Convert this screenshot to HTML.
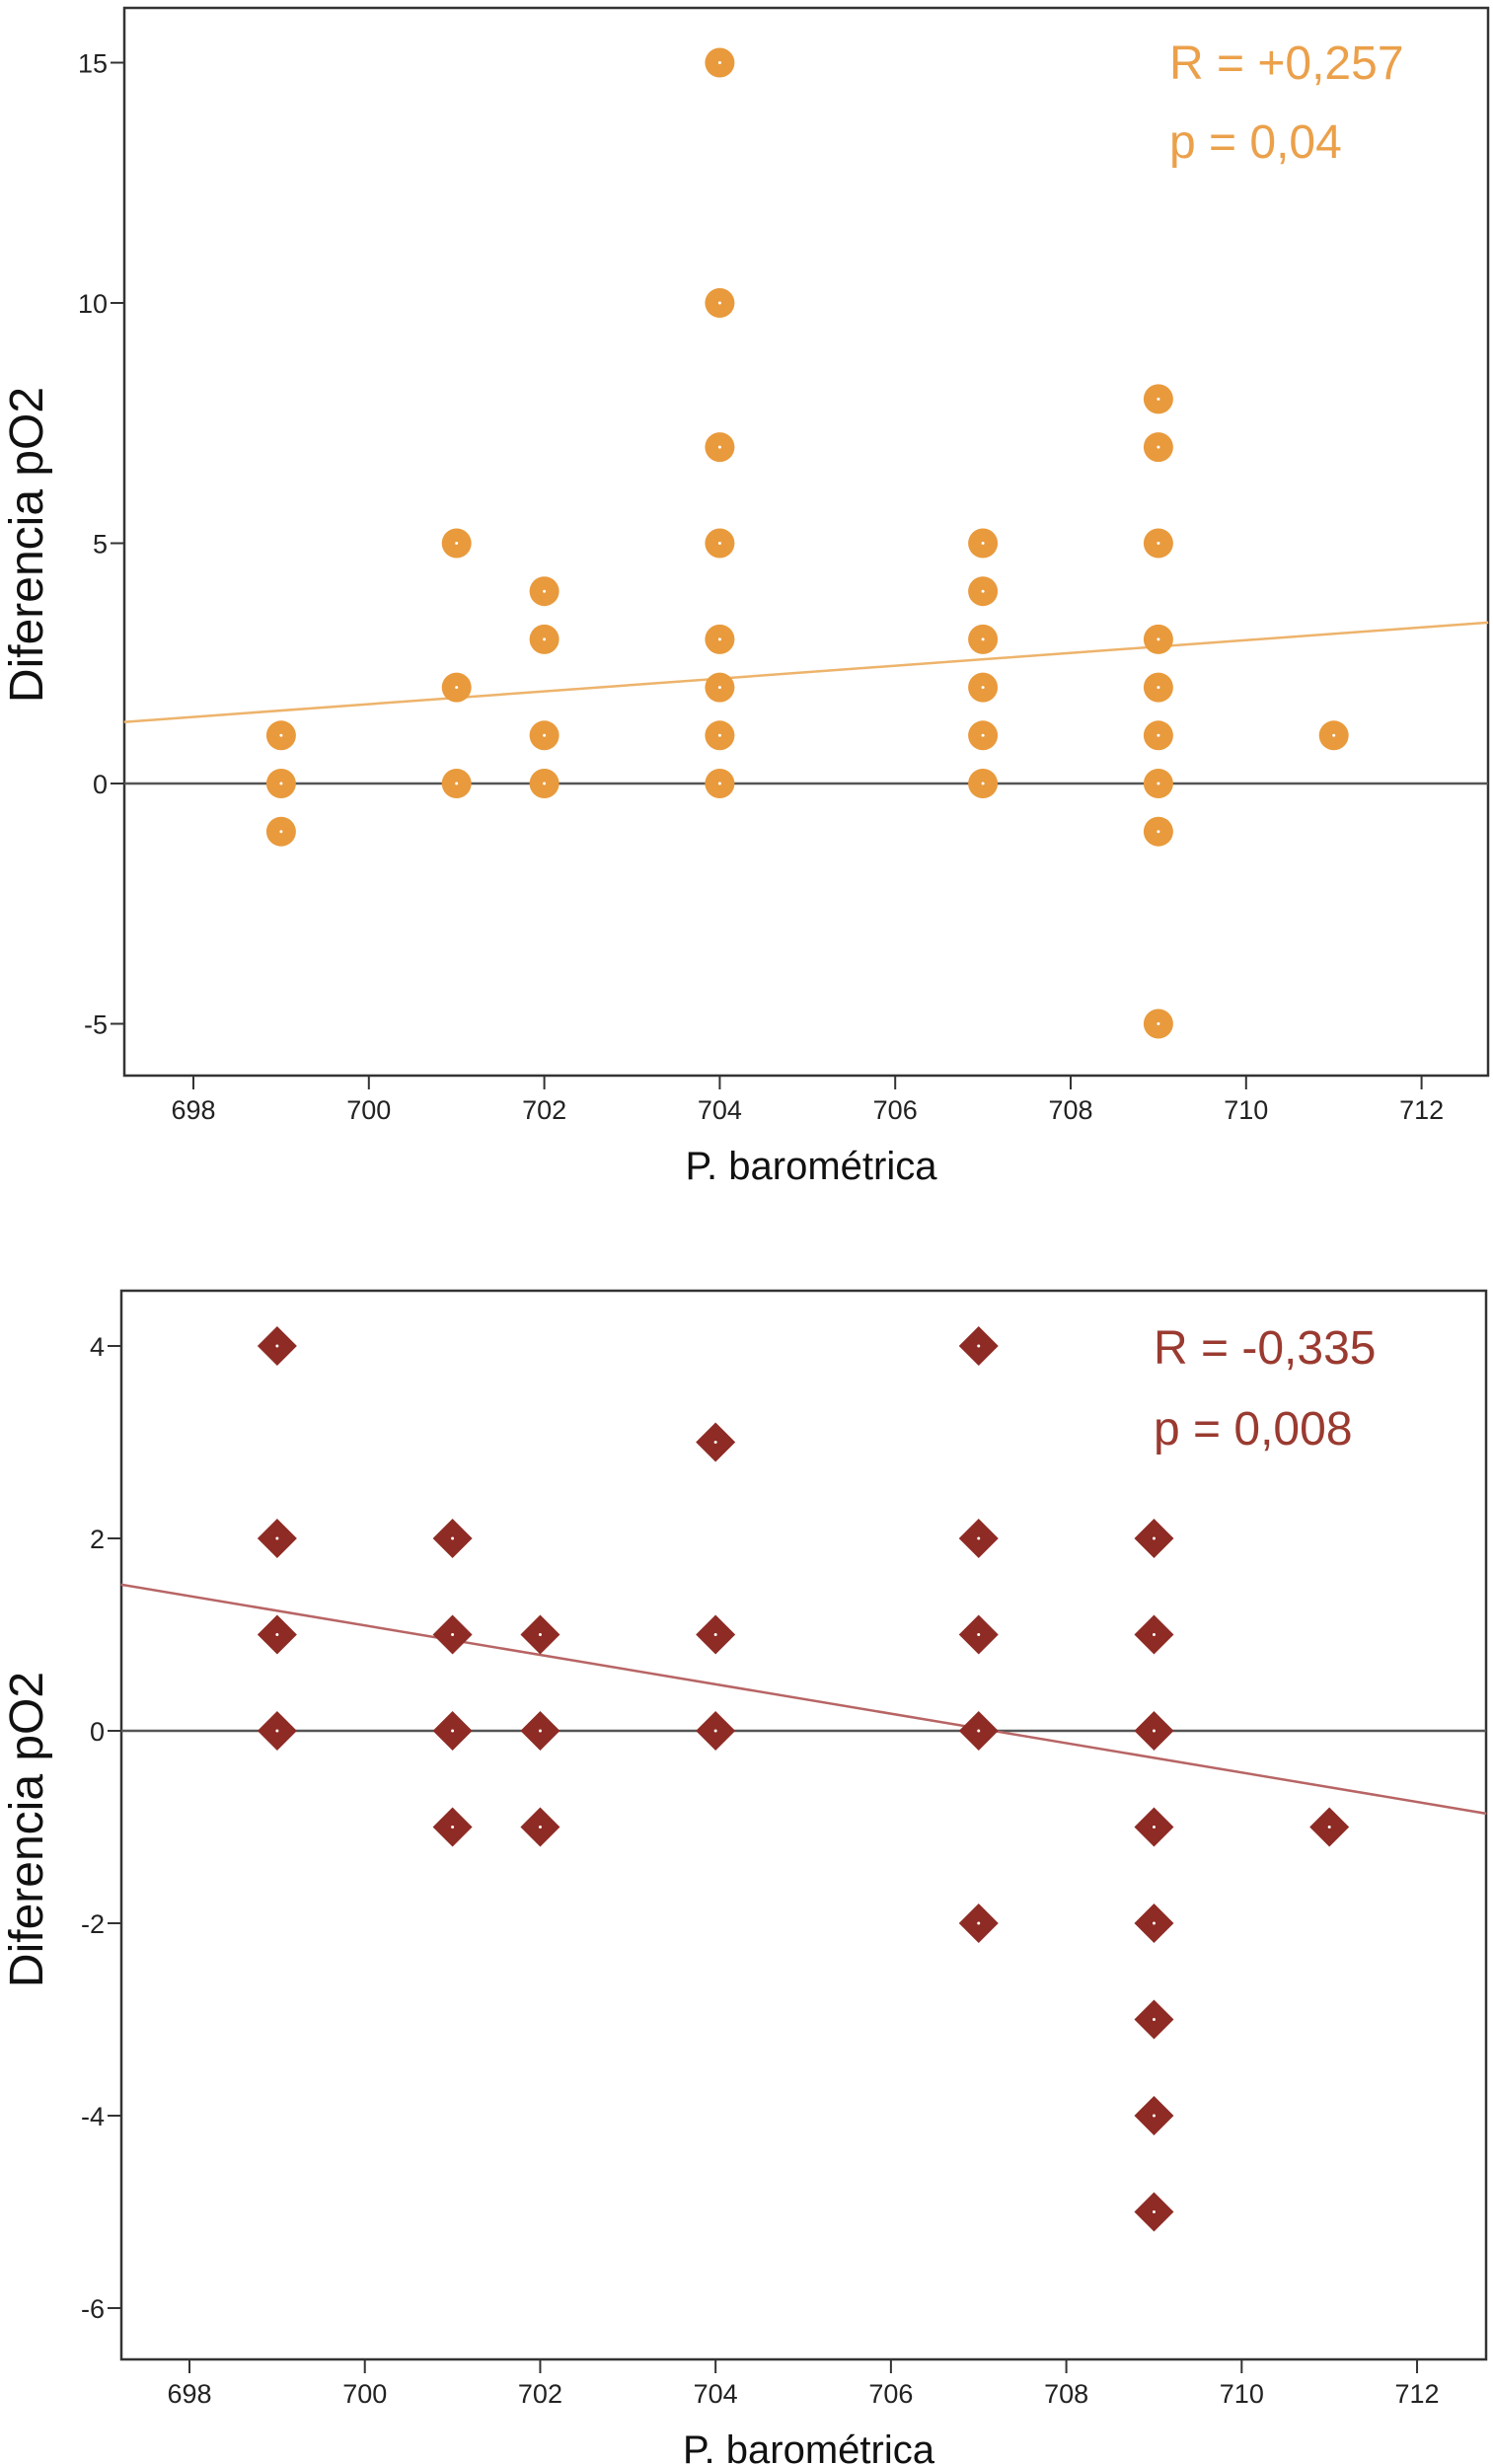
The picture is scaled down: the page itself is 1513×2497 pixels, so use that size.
<!DOCTYPE html>
<html><head><meta charset="utf-8"><style>
body{margin:0;background:#fff}
svg{display:block}
text{font-family:"Liberation Sans",Arial,sans-serif}
</style></head><body>
<svg id="chart" width="1513" height="2497" viewBox="0 0 1513 2497" xmlns="http://www.w3.org/2000/svg"></svg>
<script>
// Top chart data
const topX = [699,699,699, 701,701,701, 702,702,702,702, 704,704,704,704,704,704,704,704, 707,707,707,707,707,707, 709,709,709,709,709,709,709,709,709, 711];
const topY = [1,0,-1, 5,2,0, 4,3,1,0, 15,10,7,5,3,2,1,0, 5,4,3,2,1,0, 8,7,5,3,2,1,0,-1,-5, 1];
const topFitX = [697.21,712.76];
const topFitY = [1.28,3.35];
const topYTicks = [15,10,5,0,-5];
// Bottom chart data
const botX = [699,699,699,699, 701,701,701,701, 702,702,702, 704,704,704, 707,707,707,707,707, 709,709,709,709,709,709,709,709, 711];
const botY = [4,2,1,0, 2,1,0,-1, 1,0,-1, 3,1,0, 4,2,1,0,-2, 2,1,0,-1,-2,-3,-4,-5, -1];
const botFitX = [697.22,712.79];
const botFitY = [1.52,-0.86];
const botYTicks = [4,2,0,-2,-4,-6];
const xTicks = [698,700,702,704,706,708,710,712];

const NS="http://www.w3.org/2000/svg";
const svg=document.getElementById('chart');
function el(tag,attrs,parent,txt){const e=document.createElementNS(NS,tag);for(const k in attrs)e.setAttribute(k,attrs[k]);if(txt!==undefined)e.textContent=txt;(parent||svg).appendChild(e);return e;}

function drawChart(cfg){
  const g=el('g',{});
  
  
  const xs=v=>cfg.x0+(v-698)*cfg.xu;
  const ys=v=>cfg.y0-v*cfg.yu;
  // frame
  const fr=el('rect',{x:cfg.L,y:cfg.T,width:cfg.R-cfg.L,height:cfg.B-cfg.T,fill:'#fff',stroke:'#333','stroke-width':2.5},g);
  
  
  // y ticks
  cfg.yTicks.forEach(t=>{
    const y=ys(t);
    el('line',{x1:cfg.L-14,x2:cfg.L,y1:y,y2:y,stroke:'#333','stroke-width':2},g);
    const tx=el('text',{x:cfg.L-17,y:y+10,'font-size':27,'text-anchor':'end',fill:'#222'},g,String(t));
    
    
  });
  // x ticks
  xTicks.forEach(t=>{
    const x=xs(t);
    el('line',{x1:x,x2:x,y1:cfg.B,y2:cfg.B+14,stroke:'#333','stroke-width':2},g);
    const tx=el('text',{x:x,y:cfg.B+44,'font-size':27,'text-anchor':'middle',fill:'#222'},g,String(t));
    
    
  });
  // zero line
  const z=el('line',{x1:cfg.L,x2:cfg.R,y1:ys(0),y2:ys(0),stroke:'#555','stroke-width':2.5},g);
  
  
  // fit line
  const f=el('line',{x1:xs(cfg.fitX[0]),x2:xs(cfg.fitX[1]),y1:ys(cfg.fitY[0]),y2:ys(cfg.fitY[1]),stroke:cfg.lineColor,'stroke-width':2.5},g);
  
  
  // points
  cfg.px.forEach((v,i)=>{
    const cx=xs(v),cy=ys(cfg.py[i]);
    let m;
    if(cfg.shape==='circle'){
      m=el('circle',{cx:cx,cy:cy,r:15,fill:cfg.color},g);
    }else{
      const h=20;
      m=el('polygon',{points:`${cx},${cy-h} ${cx+h},${cy} ${cx},${cy+h} ${cx-h},${cy}`,fill:cfg.color},g);
    }
    
    
    el('circle',{cx:cx,cy:cy,r:1.5,fill:'#fff'},g);
  });
  // stats text
  const r=el('text',{x:cfg.txtX,y:cfg.rY,'font-size':48,fill:cfg.txtColor},g,cfg.rTxt);
  
  
  const p=el('text',{x:cfg.txtX,y:cfg.pY,'font-size':48,fill:cfg.txtColor},g,cfg.pTxt);
  
  
  // axis titles
  const xt=el('text',{x:(cfg.L+cfg.R)/2+5,y:cfg.xTitleY,'font-size':40,'text-anchor':'middle',fill:'#111'},g,'P. barométrica');
  
  
  const yt=el('text',{x:0,y:0,'font-size':48,'text-anchor':'middle',fill:'#111',transform:`translate(43,${cfg.yTitleY}) rotate(-90)`},g,'Diferencia pO2');
  
  
}

drawChart({name:'top-scatter-chart',L:126,R:1508,T:8,B:1090,x0:196,xu:88.9,y0:794,yu:48.7,yTicks:topYTicks,
  fitX:topFitX,fitY:topFitY,px:topX,py:topY,shape:'circle',color:'#E99A3C',lineColor:'#EDB36B',
  txtColor:'#EBA04A',txtX:1185,rY:80,rTxt:'R = +0,257',pY:160,pTxt:'p = 0,04',xTitleY:1195,yTitleY:552});
drawChart({name:'bottom-scatter-chart',L:123,R:1506,T:1308,B:2391,x0:192,xu:88.86,y0:1754,yu:97.5,yTicks:botYTicks,
  fitX:botFitX,fitY:botFitY,px:botX,py:botY,shape:'diamond',color:'#8E2B25',lineColor:'#B86464',
  txtColor:'#9A3A30',txtX:1169,rY:1382,rTxt:'R = -0,335',pY:1464,pTxt:'p = 0,008',xTitleY:2496,yTitleY:1854});
</script>
</body></html>
